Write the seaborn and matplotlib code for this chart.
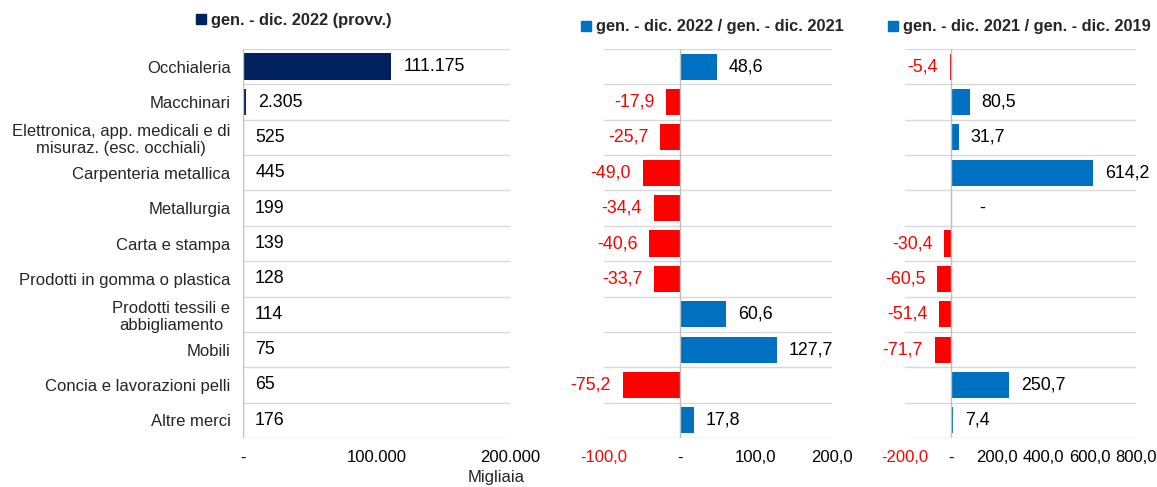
import matplotlib
matplotlib.use("Agg")
import matplotlib.pyplot as plt
from matplotlib.patches import Patch
import numpy as np
import pandas as pd
import seaborn as sns

# dati
categorie = [
    "Occhialeria",
    "Macchinari",
    "Elettronica, app. medicali e di\nmisuraz. (esc. occhiali)",
    "Carpenteria metallica",
    "Metallurgia",
    "Carta e stampa",
    "Prodotti in gomma o plastica",
    "Prodotti tessili e\nabbigliamento",
    "Mobili",
    "Concia e lavorazioni pelli",
    "Altre merci",
]
export_2022 = [111175, 2305, 525, 445, 199, 139, 128, 114, 75, 65, 176]
var_22_21 = [48.6, -17.9, -25.7, -49.0, -34.4, -40.6, -33.7, 60.6, 127.7, -75.2, 17.8]
var_21_19 = [-5.4, 80.5, 31.7, 614.2, np.nan, -30.4, -60.5, -51.4, -71.7, 250.7, 7.4]

leg_1 = "gen. - dic. 2022 (provv.)"
leg_2 = "gen. - dic. 2022 / gen. - dic. 2021"
leg_3 = "gen. - dic. 2021 / gen. - dic. 2019"

ticks_1 = [0, 100000, 200000]
ticks_2 = [-100, 0, 100, 200]
ticks_3 = [-200, 0, 200, 400, 600, 800]

NAVY = "#002060"
BLUE = "#0070C0"
RED = "#FF0000"
GRID = "#D9D9D9"
ZERO = "#BFBFBF"
VAL_FS = 12.8

sns.set_theme(style="white")
plt.rcParams["font.family"] = ["Liberation Sans", "DejaVu Sans"]


def fmt_int(v):
    if v == 0:
        return "-"
    return f"{v:,.0f}".replace(",", ".")


def fmt_dec(v):
    if v == 0:
        return "-"
    return f"{v:.1f}".replace(".", ",")


df = pd.DataFrame({"cat": categorie, "exp": export_2022,
                   "v1": var_22_21, "v2": var_21_19})

W, H = 1157, 487
fig = plt.figure(figsize=(W / 100, H / 100), dpi=100)


def add_ax(x0, x1, y0=49, y1=438):
    return fig.add_axes([x0 / W, 1 - y1 / H, (x1 - x0) / W, (y1 - y0) / H])


ax1 = add_ax(243, 510)
ax2 = add_ax(604, 832)
ax3 = add_ax(905, 1136)

# pannello 1
sns.barplot(data=df, x="exp", y="cat", color=NAVY, orient="h", width=0.76,
            linewidth=0, saturation=1, ax=ax1)
# pannelli 2 e 3
for ax, col in [(ax2, "v1"), (ax3, "v2")]:
    cols = [RED if v < 0 else BLUE for v in df[col].fillna(0)]
    sns.barplot(data=df, x=col, y="cat", hue="cat", palette=cols, dodge=False,
                legend=False, orient="h", width=0.74, linewidth=0, saturation=1,
                ax=ax)

ax1.set_xlim(0, 200000)
ax2.set_xlim(-100, 200)
ax3.set_xlim(-200, 800)

for ax, ticks, f in [(ax1, ticks_1, fmt_int), (ax2, ticks_2, fmt_dec),
                     (ax3, ticks_3, fmt_dec)]:
    ax.set_ylim(len(categorie) - 0.5, -0.5)
    for b in np.arange(-0.5, len(categorie), 1):
        ax.axhline(b, color=GRID, lw=1, zorder=0)
    ax.axvline(0, color=ZERO, lw=1, zorder=1)
    for s in ax.spines.values():
        s.set_visible(False)
    ax.set_xticks(ticks)
    ax.set_xticklabels([f(t) for t in ticks], fontsize=12)
    for lab, t in zip(ax.get_xticklabels(), ticks):
        lab.set_color(RED if t < 0 else "black")
    ax.tick_params(axis="x", length=0, pad=9)
    ax.set_ylabel("")
    ax.set_xlabel("")

ax1.tick_params(axis="y", length=0, pad=9, labelsize=12)
for lab in ax1.get_yticklabels():
    lab.set_multialignment("center")
ax2.set_yticks([])
ax3.set_yticks([])

# etichette valori
for i, v in enumerate(export_2022):
    ax1.annotate(fmt_int(v), xy=(v, i), xytext=(8.5, 0), textcoords="offset points",
                 ha="left", va="center", fontsize=VAL_FS, color="black")

for ax, vals in [(ax2, var_22_21), (ax3, var_21_19)]:
    for i, v in enumerate(vals):
        if np.isnan(v):
            ax.annotate("-", xy=(0, i), xytext=(20, 0), textcoords="offset points",
                        ha="left", va="center", fontsize=VAL_FS, color="black")
        elif v < 0:
            ax.annotate(fmt_dec(v), xy=(v, i), xytext=(-8.5, 0), textcoords="offset points",
                        ha="right", va="center", fontsize=VAL_FS, color=RED)
        else:
            ax.annotate(fmt_dec(v), xy=(v, i), xytext=(8.5, 0), textcoords="offset points",
                        ha="left", va="center", fontsize=VAL_FS, color="black")

ax1.set_xlabel("Migliaia", fontsize=12)
ax1.xaxis.set_label_coords(0.947, -0.083)

# legende
leg_kw = dict(frameon=False, handlelength=0.6, handleheight=0.6, handletextpad=0.3,
              borderpad=0, borderaxespad=0, loc="center left",
              prop={"weight": "bold", "size": 11.8})
fig.legend(handles=[Patch(color=NAVY, label=leg_1)],
           bbox_to_anchor=(196 / W, 1 - 20 / H), **leg_kw)
fig.legend(handles=[Patch(color=BLUE, label=leg_2)],
           bbox_to_anchor=(581 / W, 1 - 27 / H), **leg_kw)
fig.legend(handles=[Patch(color=BLUE, label=leg_3)],
           bbox_to_anchor=(888 / W, 1 - 27 / H), **leg_kw)

fig.savefig("out.png", dpi=100)
